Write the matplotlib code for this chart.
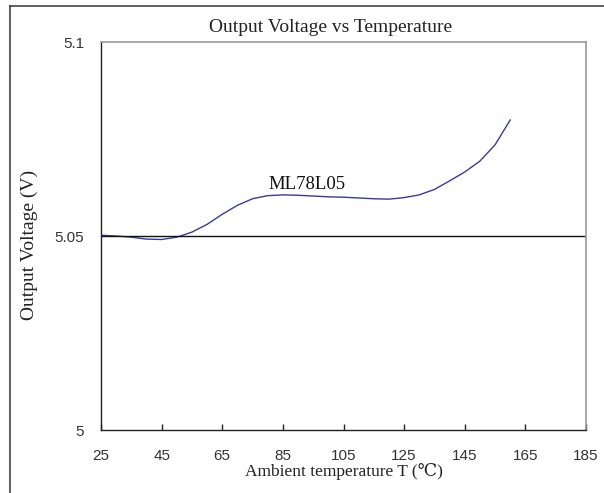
import matplotlib
matplotlib.use("Agg")
import matplotlib.pyplot as plt
from matplotlib.lines import Line2D

# values
temp = [25, 30, 35, 40, 45, 50, 55, 60, 65, 70, 75, 80, 85, 90, 95, 100,
        105, 110, 115, 120, 125, 130, 135, 140, 145, 150, 155, 160]
vout = [5.0502, 5.0500, 5.0497, 5.0492, 5.0491, 5.0497, 5.0510, 5.0530, 5.0556, 5.0579,
        5.0596, 5.0604, 5.0606, 5.0605, 5.0603, 5.0601, 5.0600, 5.0598, 5.0596, 5.0595,
        5.0599, 5.0606, 5.0620, 5.0642, 5.0665, 5.0693, 5.0735, 5.0799]
xticks = [25, 45, 65, 85, 105, 125, 145, 165, 185]
yticks = [5, 5.05, 5.1]
ylabels = ["5", "5.05", "5.1"]

serif = ['Liberation Serif', 'DejaVu Serif', 'DejaVu Sans']
sans = ['Liberation Sans', 'DejaVu Sans']

fig = plt.figure(figsize=(6.04, 4.93), dpi=100)
ax = fig.add_axes([101/604, 63/493, 485/604, 388/493])

ax.plot(temp, vout, color='#3a3a9e', lw=1.0)
ax.axhline(5.05, color='#111111', lw=1.0)
ax.text(93, 5.0634, 'ML78L05', ha='center', va='center', fontsize=13.5, family=serif, color='#111111')

ax.set_xlim(25, 185); ax.set_ylim(5, 5.1)
ax.set_xticks(xticks); ax.set_yticks(yticks)
ax.set_xticklabels([str(t) for t in xticks], family=sans, fontsize=11, color='#333333')
ax.set_yticklabels(ylabels, family=sans, fontsize=11, color='#333333')
ax.tick_params(axis='x', direction='in', length=4, width=1, color='#222222', pad=14)
ax.tick_params(axis='y', length=0, pad=12)
for s in ['left', 'bottom']:
    ax.spines[s].set_color('#222222'); ax.spines[s].set_linewidth(1.0)
for s in ['top', 'right']:
    ax.spines[s].set_color('#999999'); ax.spines[s].set_linewidth(1.2)

ax.set_title('Output Voltage vs Temperature', family=serif, fontsize=14, x=0.474, pad=7, color='#222222')
ax.set_xlabel('Ambient temperature T (℃)', family=serif, fontsize=12.5, color='#222222')
ax.xaxis.set_label_coords(0.5, -33/388)
ax.set_ylabel('Output Voltage (V)', family=serif, fontsize=14, color='#222222')
ax.yaxis.set_label_coords(-63/485, 0.477)

# outer frame (partly cropped in the reference)
fig.add_artist(Line2D([10/604, 10/604], [0, 1 - 6/493], transform=fig.transFigure, color='#666666', lw=1.5))
fig.add_artist(Line2D([10/604, 1], [1 - 6/493, 1 - 6/493], transform=fig.transFigure, color='#444444', lw=1.2))

fig.savefig('out.png', dpi=100)
